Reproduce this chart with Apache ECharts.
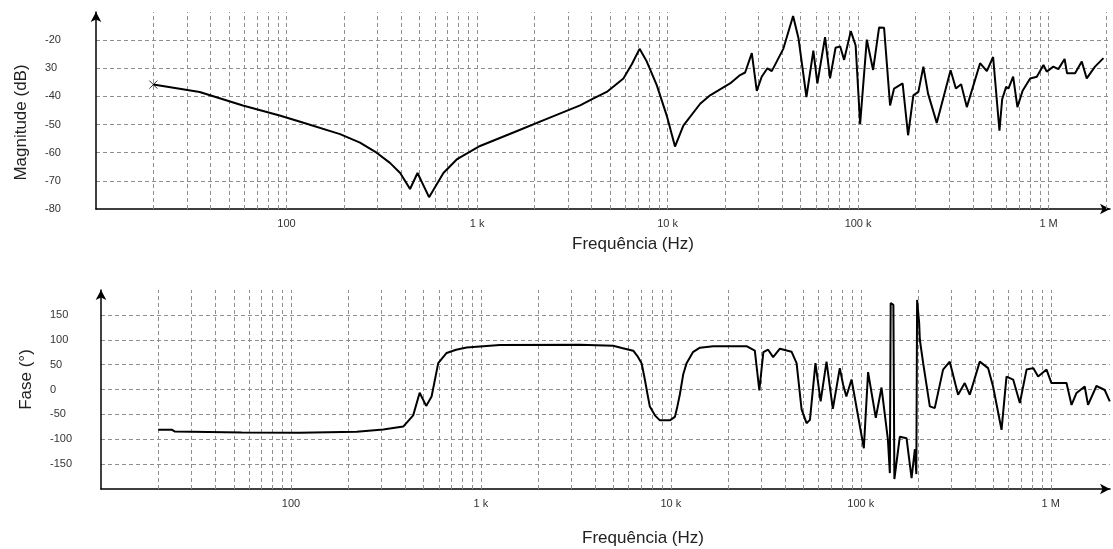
<!DOCTYPE html>
<html>
<head>
<meta charset="utf-8">
<script src="https://cdn.jsdelivr.net/npm/echarts@6/dist/echarts.min.js"></script>
<style>
html,body{margin:0;padding:0;background:#fff;}
#chart{width:1113px;height:549px;}
</style>
</head>
<body>
<div id="chart"></div>
<script>
// ---- Data ----
const magFreq = [20, 35, 59, 92, 118, 191, 243, 297, 349, 395, 445, 487,
  560, 666, 782, 1037, 1552, 2323, 3475, 4064, 4795, 5865,
  6500, 7130, 7780, 8775, 9900, 10940, 12100, 14830, 16720, 21280,
  24030, 25530, 27680, 29390, 31200, 33420, 35240, 40550, 45590, 48630,
  53560, 58240, 61120, 67080, 71250, 76170, 80450, 84470, 91580, 97080,
  102500, 111100, 119900, 128900, 136900, 147200, 154500, 171300, 183000, 195000,
  207200, 220100, 232900, 258700, 305900, 326100, 347400, 372200, 436800, 474000,
  511400, 552100, 570400, 598600, 615300, 651400, 685900, 730400, 799900, 867100,
  939500, 977600, 1059000, 1125000, 1213000, 1250000, 1377000, 1493000, 1585000, 1752000,
  1940000];
const magDb = [-35.8, -38.4, -43.2, -46.8, -49, -53.4, -56.4, -60, -63.6, -67.2, -72.9, -67.2,
  -75.8, -67.2, -62.4, -57.6, -52.8, -48, -43.2, -40.8, -38.4, -33.6,
  -28.5, -23.1, -27.6, -36, -46.8, -57.8, -50.4, -42.6, -39.6, -35.4,
  -32.4, -31.5, -24.6, -38, -33, -30, -31, -23, -11.4, -19.2,
  -40.2, -23.7, -35.4, -18.9, -33.6, -22.7, -22.2, -27, -16.8, -21.9,
  -49.8, -19.8, -30.6, -15.5, -15.6, -43.2, -37.2, -35.4, -53.8, -39.6,
  -38.4, -29.4, -39, -49.4, -30.7, -37.2, -35.7, -43.8, -28.2, -31,
  -26, -52.2, -41, -36.6, -37.2, -33, -43.8, -38, -33.6, -33,
  -28.8, -31.2, -29.4, -30.3, -26.7, -31.8, -31.8, -27.6, -33.6, -29.4,
  -26.4];

const phFreq = [20, 23.7, 24.5, 55, 111, 222, 306, 390, 440, 476,
  515, 550, 596, 660, 740, 841, 1259, 3320, 4970, 5520, 6336,
  6700, 7013, 7300, 7520, 7750, 8240, 8750, 9880, 10500, 10820,
  11150, 11610, 12100, 13060, 14220, 16710, 25020, 27670, 29220, 30680,
  32520, 34540, 37500, 43170, 45900, 48770, 51800, 53960, 57690, 61420,
  65980, 71230, 77500, 80700, 83900, 89370, 103700, 109200, 119900, 128500,
  138800, 142200, 143600, 148400, 150200, 160400, 174100, 185000, 192600, 196000,
  197800, 202800, 204500, 212900, 230800, 245000, 271000, 293900, 325000, 352400,
  374600, 422900, 467700, 496800, 550500, 584700, 633900, 687400, 745500, 808200,
  857900, 949700, 1008000, 1210000, 1286000, 1366000, 1509000, 1571000, 1739000, 1923000,
  2045000];
const phDeg = [-81, -81, -84.5, -86.5, -86.7, -84.7, -80.5, -74.6, -52, -6.5,
  -33, -14, 53, 73.4, 80, 84.5, 89.5, 90, 88.1, 83.5, 78,
  66, 53, 19.6, -8, -34.3, -52, -62, -62, -55, -34,
  -10, 30, 53, 75, 84, 87, 87, 78, -2, 75,
  80, 65, 82, 76, 53, -40, -67.7, -61, 53, -24,
  56, -39, 43, 9.5, -14, 20, -118, 35, -57, 4,
  -100, -168, 174, 170, -180, -95, -98, -178, -120, -170,
  180, 134, 100, 53, -34, -37.5, 40, 56, -10.7, 13,
  -10.7, 56, 43, 6, -81, 26, 20, -27, 40, 43,
  26, 40, 13, 13, -31, -7, 6, -31, 7, -1,
  -24];

// Tick labels
const xTickVals = [100, 1000, 10000, 100000, 1000000];
const xTickText = ['100', '1 k', '10 k', '100 k', '1 M'];
const magTickVals = [-80, -70, -60, -50, -40, -30, -20];
const magTickText = ['-80', '-70', '-60', '-50', '-40', '30', '-20'];
const phTickVals = [-150, -100, -50, 0, 50, 100, 150];
const phTickText = ['-150', '-100', '-50', '0', '50', '100', '150'];

// Minor log gridline positions (multipliers within each decade)
const gridMult = [2, 3, 4, 5, 6, 7, 8, 9, 10];
const gridDecades = [10, 100, 1000, 10000, 100000, 1000000];

const FONT = "'Liberation Sans', Arial, Helvetica, sans-serif";

function buildGrid(maxF) {
  const out = [];
  gridDecades.forEach(d => gridMult.forEach(m => { const f = d * m; if (f <= maxF) out.push({ xAxis: f }); }));
  return out;
}
function fmtX(v) {
  for (let i = 0; i < xTickVals.length; i++) {
    if (Math.abs(Math.log10(v) - Math.log10(xTickVals[i])) < 1e-6) return xTickText[i];
  }
  return '';
}
function makeFmt(vals, texts) {
  return function (v) {
    for (let i = 0; i < vals.length; i++) if (Math.abs(v - vals[i]) < 1e-6) return texts[i];
    return '';
  };
}

const gridLineStyle = { color: '#8f8f8f', width: 1, type: [4, 3] };
const axisLineStyle = { color: '#000', width: 1.5 };

const chart = echarts.init(document.getElementById('chart'), null, { renderer: 'canvas' });

function xAxisCfg(idx, maxF, nameGap, namePad) {
  return {
    gridIndex: idx, type: 'log', logBase: 10, min: 10, max: maxF,
    axisLine: { show: true, onZero: false, symbol: ['none', 'arrow'], symbolSize: [8, 10], lineStyle: axisLineStyle },
    axisTick: { show: false }, splitLine: { show: false }, minorTick: { show: false },
    axisLabel: { formatter: fmtX, margin: 9, fontSize: 11, color: '#333', fontFamily: FONT, showMinLabel: true, showMaxLabel: true },
    name: 'Frequência (Hz)', nameLocation: 'middle', nameGap: nameGap,
    nameTextStyle: { fontSize: 17, color: '#222', fontFamily: FONT, padding: namePad }
  };
}
function yAxisCfg(idx, min, max, interval, vals, texts, name, namePad) {
  return {
    gridIndex: idx, type: 'value', min: min, max: max, interval: interval,
    axisLine: { show: true, onZero: false, symbol: ['none', 'arrow'], symbolSize: [8, 10], lineStyle: axisLineStyle },
    axisTick: { show: false },
    splitLine: { show: true, showMinLine: false, showMaxLine: false, lineStyle: gridLineStyle },
    axisLabel: { formatter: makeFmt(vals, texts), align: 'left', margin: 51, fontSize: 11, color: '#333', fontFamily: FONT },
    name: name, nameLocation: 'middle', nameGap: 66,
    nameTextStyle: { fontSize: 17, color: '#222', fontFamily: FONT, padding: namePad }
  };
}

const option = {
  animation: false,
  backgroundColor: '#ffffff',
  textStyle: { fontFamily: FONT },
  grid: [
    { left: 96, top: 12, width: 1014, height: 197 },
    { left: 101, top: 290, width: 1009, height: 199 }
  ],
  xAxis: [
    xAxisCfg(0, 2.1e6, 27, [0, 0, 0, 60]),
    xAxisCfg(1, 2.05e6, 41, [0, 0, 0, 75])
  ],
  yAxis: [
    yAxisCfg(0, -80, -10, 10, magTickVals, magTickText, 'Magnitude (dB)', [0, 24, 0, 0]),
    yAxisCfg(1, -200, 200, 50, phTickVals, phTickText, 'Fase (°)', [0, 0, 0, 20])
  ],
  series: [
    {
      type: 'line', xAxisIndex: 0, yAxisIndex: 0, data: [], silent: true, z: 1,
      markLine: { silent: true, symbol: ['none', 'none'], label: { show: false }, lineStyle: gridLineStyle, animation: false, data: buildGrid(2.1e6) }
    },
    {
      type: 'line', xAxisIndex: 1, yAxisIndex: 1, data: [], silent: true, z: 1,
      markLine: { silent: true, symbol: ['none', 'none'], label: { show: false }, lineStyle: gridLineStyle, animation: false, data: buildGrid(1.0e6) }
    },
    {
      name: 'Magnitude', type: 'line', xAxisIndex: 0, yAxisIndex: 0, z: 5,
      data: magFreq.map((f, i) => [f, magDb[i]]),
      showSymbol: false, smooth: false,
      lineStyle: { color: '#000', width: 2 }
    },
    {
      name: 'start', type: 'scatter', xAxisIndex: 0, yAxisIndex: 0, z: 6,
      data: [[magFreq[0], magDb[0]]],
      symbol: 'path://M0,0L10,10M10,0L0,10', symbolSize: 8,
      itemStyle: { color: 'rgba(0,0,0,0)', borderColor: '#000', borderWidth: 1 }
    },
    {
      name: 'Fase', type: 'line', xAxisIndex: 1, yAxisIndex: 1, z: 5,
      data: phFreq.map((f, i) => [f, phDeg[i]]),
      showSymbol: false, smooth: false,
      lineStyle: { color: '#000', width: 2 }
    }
  ]
};
chart.setOption(option);
</script>
</body>
</html>
